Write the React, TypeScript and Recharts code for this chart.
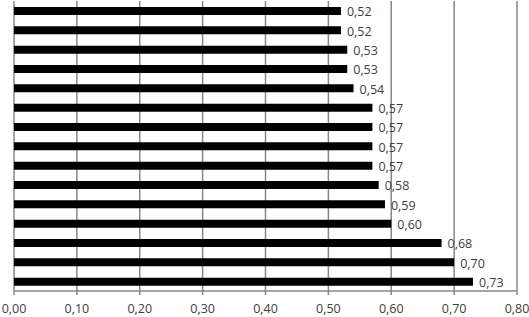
import React from "react";
import { BarChart, Bar, XAxis, YAxis, CartesianGrid, LabelList } from "recharts";

const categories = [
  "C1", "C2", "C3", "C4", "C5", "C6", "C7", "C8",
  "C9", "C10", "C11", "C12", "C13", "C14", "C15",
];
const values = [
  0.52, 0.52, 0.53, 0.53, 0.54, 0.57, 0.57, 0.57,
  0.57, 0.58, 0.59, 0.6, 0.68, 0.7, 0.73,
];
const xTicks = [0, 0.1, 0.2, 0.3, 0.4, 0.5, 0.6, 0.7, 0.8];
const boundaryTicks = [0, 1, 2, 3, 4, 5, 6, 7, 8, 9, 10, 11, 12, 13, 14, 15];

const data = categories.map((name, i) => ({ name, value: values[i] }));

const fmt = (v: number) => Number(v).toFixed(2).replace(".", ",");

const GRAY = "#878787";
const FONT = "'Open Sans', 'Liberation Sans', sans-serif";

export default function App() {
  return (
    <div style={{ position: "absolute", left: 0, top: 0 }}>
      <BarChart
        width={529}
        height={317}
        data={data}
        layout="vertical"
        margin={{ top: 1, right: 12, left: 14, bottom: 0 }}
      >
        <CartesianGrid horizontal={false} vertical={true} stroke={GRAY} strokeWidth={1.5} />
        <XAxis
          type="number"
          domain={[0, 0.8]}
          ticks={xTicks}
          interval={0}
          tickFormatter={fmt}
          height={26}
          stroke={GRAY}
          strokeWidth={1.5}
          tickSize={4}
          tickMargin={9}
          tick={{ fill: "#404040", fontSize: 12.5, fontFamily: FONT }}
          allowDataOverflow
        />
        <YAxis type="category" dataKey="name" hide />
        <YAxis
          yAxisId="b"
          type="number"
          domain={[0, 15]}
          ticks={boundaryTicks}
          interval={0}
          width={0}
          tick={false}
          tickSize={4}
          stroke={GRAY}
          strokeWidth={1.5}
          allowDataOverflow
        />
        <Bar dataKey="value" fill="#000000" barSize={8} isAnimationActive={false}>
          <LabelList
            dataKey="value"
            position="right"
            offset={6}
            formatter={(v: any) => fmt(v)}
            fill="#404040"
            fontSize={12.5}
            fontFamily={FONT}
            dy={1}
          />
        </Bar>
      </BarChart>
    </div>
  );
}
